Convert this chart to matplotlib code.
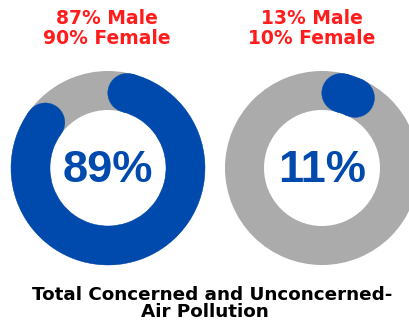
import numpy as np
import matplotlib
matplotlib.use("Agg")
import matplotlib.pyplot as plt
from matplotlib.patches import Wedge, Circle

# Share of respondents concerned / unconcerned about air pollution
groups = ["Concerned", "Unconcerned"]
totals = [89, 11]
male = [87, 13]
female = [90, 10]

BLUE = "#004AAD"
GREY = "#ABABAB"
RED = "#FF1C1C"

W, H = 409, 328
fig = plt.figure(figsize=(W / 100, H / 100), dpi=100)
ax = fig.add_axes([0, 0, 1, 1])
ax.set_xlim(0, W)
ax.set_ylim(H, 0)
ax.set_aspect("equal")
ax.axis("off")

centers = [(108, 168), (322, 168)]
label_x = [107, 312]
r_out, r_in = 97, 58
r_mid = (r_out + r_in) / 2
half_w = (r_out - r_in) / 2


def arc_point(cx, cy, ang_deg):
    a = np.radians(ang_deg)
    # y axis points down in this coordinate frame
    return cx + r_mid * np.cos(a), cy + r_mid * np.sin(a)


for (cx, cy), pct in zip(centers, totals):
    ax.add_patch(Wedge((cx, cy), r_out, 0, 360, width=r_out - r_in,
                       facecolor=GREY, edgecolor="none"))
    # progress arc starts at 12 o'clock and runs clockwise, caps included
    cap_deg = np.degrees(half_w / r_mid)
    start = -90 + cap_deg
    end = -90 + pct / 100 * 360 - cap_deg
    ax.add_patch(Wedge((cx, cy), r_out, start, end, width=r_out - r_in,
                       facecolor=BLUE, edgecolor=BLUE, linewidth=0.3))
    for ang in (start, end):
        ax.add_patch(Circle(arc_point(cx, cy, ang), half_w,
                            facecolor=BLUE, edgecolor=BLUE, linewidth=0.3))
    ax.text(cx, cy + 3, f"{pct}%", ha="center", va="center",
            fontsize=32.5, fontweight="bold", color=BLUE,
            family="Liberation Sans")

for x, m, f in zip(label_x, male, female):
    ax.text(x, 19, f"{m}% Male", ha="center", va="center",
            fontsize=13.5, fontweight="bold", color=RED, family="DejaVu Sans")
    ax.text(x, 39, f"{f}% Female", ha="center", va="center",
            fontsize=13.5, fontweight="bold", color=RED, family="DejaVu Sans")

ax.text(212, 295, "Total Concerned and Unconcerned-", ha="center",
        va="center", fontsize=13.2, fontweight="bold", color="black",
        family="DejaVu Sans")
ax.text(205, 312, "Air Pollution", ha="center", va="center",
        fontsize=13.2, fontweight="bold", color="black", family="DejaVu Sans")

fig.savefig("out.png", dpi=100)
